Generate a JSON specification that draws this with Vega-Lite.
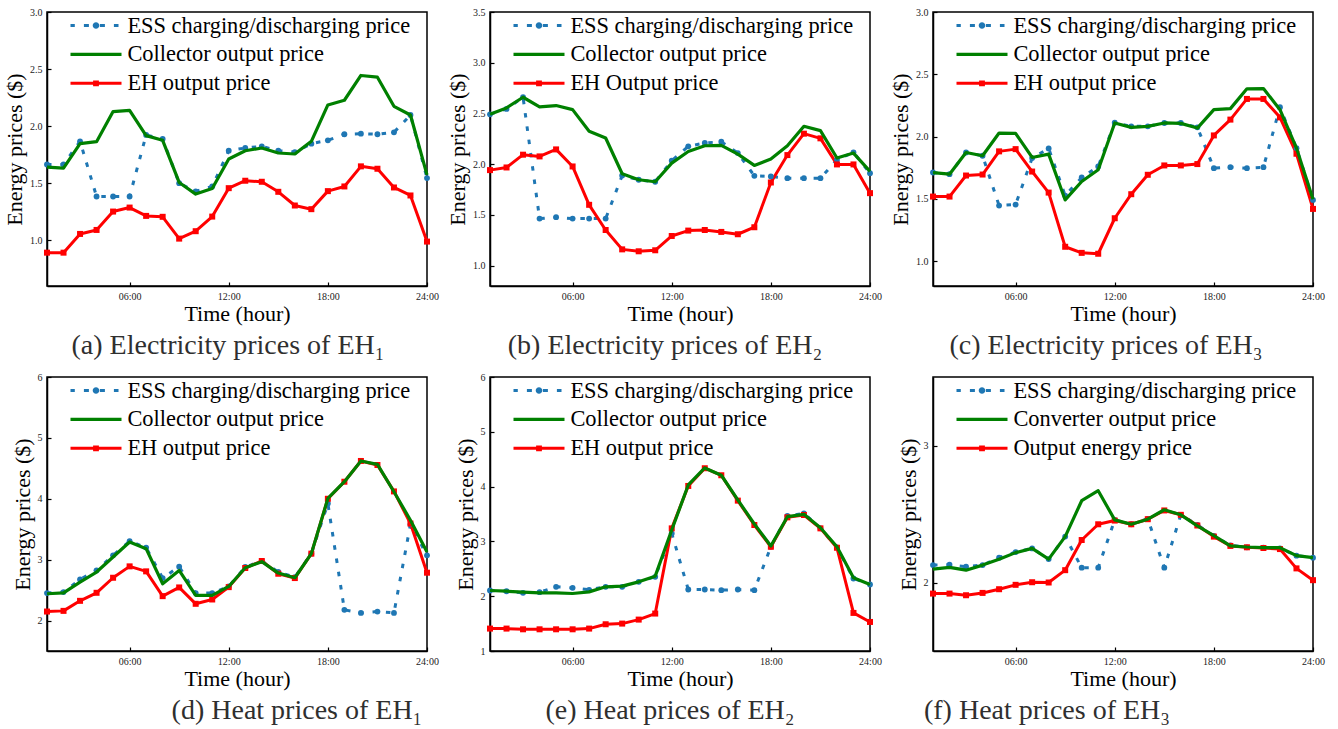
{
  "$schema": "https://vega.github.io/schema/vega-lite/v6.json",
  "padding": {"left": 2, "top": 6, "right": 5, "bottom": 5},
  "bounds": "flush",
  "columns": 3,
  "spacing": {"row": 91, "column": 63},
  "resolve": {"scale": {"color": "independent"}, "legend": {"color": "independent"}},
  "datasets": {
    "a": [
      {"h":1,"s":"ess","v":1.665},{"h":2,"s":"ess","v":1.665},{"h":3,"s":"ess","v":1.867},{"h":4,"s":"ess","v":1.384},{"h":5,"s":"ess","v":1.384},{"h":6,"s":"ess","v":1.384},{"h":7,"s":"ess","v":1.923},{"h":8,"s":"ess","v":1.888},{"h":9,"s":"ess","v":1.501},{"h":10,"s":"ess","v":1.428},{"h":11,"s":"ess","v":1.472},{"h":12,"s":"ess","v":1.785},{"h":13,"s":"ess","v":1.809},{"h":14,"s":"ess","v":1.823},{"h":15,"s":"ess","v":1.785},{"h":16,"s":"ess","v":1.773},{"h":17,"s":"ess","v":1.847},{"h":18,"s":"ess","v":1.876},{"h":19,"s":"ess","v":1.929},{"h":20,"s":"ess","v":1.934},{"h":21,"s":"ess","v":1.929},{"h":22,"s":"ess","v":1.946},{"h":23,"s":"ess","v":2.098},{"h":24,"s":"ess","v":1.545},
      {"h":1,"s":"col","v":1.642},{"h":2,"s":"col","v":1.633},{"h":3,"s":"col","v":1.847},{"h":4,"s":"col","v":1.864},{"h":5,"s":"col","v":2.128},{"h":6,"s":"col","v":2.139},{"h":7,"s":"col","v":1.917},{"h":8,"s":"col","v":1.876},{"h":9,"s":"col","v":1.507},{"h":10,"s":"col","v":1.405},{"h":11,"s":"col","v":1.454},{"h":12,"s":"col","v":1.712},{"h":13,"s":"col","v":1.785},{"h":14,"s":"col","v":1.809},{"h":15,"s":"col","v":1.765},{"h":16,"s":"col","v":1.756},{"h":17,"s":"col","v":1.867},{"h":18,"s":"col","v":2.186},{"h":19,"s":"col","v":2.227},{"h":20,"s":"col","v":2.444},{"h":21,"s":"col","v":2.429},{"h":22,"s":"col","v":2.174},{"h":23,"s":"col","v":2.098},{"h":24,"s":"col","v":1.574},
      {"h":1,"s":"eh","v":0.892},{"h":2,"s":"eh","v":0.892},{"h":3,"s":"eh","v":1.056},{"h":4,"s":"eh","v":1.091},{"h":5,"s":"eh","v":1.252},{"h":6,"s":"eh","v":1.287},{"h":7,"s":"eh","v":1.214},{"h":8,"s":"eh","v":1.206},{"h":9,"s":"eh","v":1.015},{"h":10,"s":"eh","v":1.080},{"h":11,"s":"eh","v":1.208},{"h":12,"s":"eh","v":1.457},{"h":13,"s":"eh","v":1.522},{"h":14,"s":"eh","v":1.513},{"h":15,"s":"eh","v":1.425},{"h":16,"s":"eh","v":1.305},{"h":17,"s":"eh","v":1.273},{"h":18,"s":"eh","v":1.431},{"h":19,"s":"eh","v":1.472},{"h":20,"s":"eh","v":1.648},{"h":21,"s":"eh","v":1.627},{"h":22,"s":"eh","v":1.463},{"h":23,"s":"eh","v":1.393},{"h":24,"s":"eh","v":0.989}
    ],
    "b": [
      {"h":1,"s":"ess","v":2.492},{"h":2,"s":"ess","v":2.545},{"h":3,"s":"ess","v":2.660},{"h":4,"s":"ess","v":1.464},{"h":5,"s":"ess","v":1.478},{"h":6,"s":"ess","v":1.464},{"h":7,"s":"ess","v":1.464},{"h":8,"s":"ess","v":1.464},{"h":9,"s":"ess","v":1.889},{"h":10,"s":"ess","v":1.847},{"h":11,"s":"ess","v":1.827},{"h":12,"s":"ess","v":2.034},{"h":13,"s":"ess","v":2.176},{"h":14,"s":"ess","v":2.209},{"h":15,"s":"ess","v":2.222},{"h":16,"s":"ess","v":2.110},{"h":17,"s":"ess","v":1.886},{"h":18,"s":"ess","v":1.879},{"h":19,"s":"ess","v":1.863},{"h":20,"s":"ess","v":1.863},{"h":21,"s":"ess","v":1.863},{"h":22,"s":"ess","v":2.044},{"h":23,"s":"ess","v":2.117},{"h":24,"s":"ess","v":1.912},
      {"h":1,"s":"col","v":2.492},{"h":2,"s":"col","v":2.555},{"h":3,"s":"col","v":2.660},{"h":4,"s":"col","v":2.565},{"h":5,"s":"col","v":2.578},{"h":6,"s":"col","v":2.538},{"h":7,"s":"col","v":2.324},{"h":8,"s":"col","v":2.258},{"h":9,"s":"col","v":1.906},{"h":10,"s":"col","v":1.847},{"h":11,"s":"col","v":1.827},{"h":12,"s":"col","v":2.011},{"h":13,"s":"col","v":2.126},{"h":14,"s":"col","v":2.182},{"h":15,"s":"col","v":2.186},{"h":16,"s":"col","v":2.100},{"h":17,"s":"col","v":1.988},{"h":18,"s":"col","v":2.051},{"h":19,"s":"col","v":2.182},{"h":20,"s":"col","v":2.374},{"h":21,"s":"col","v":2.331},{"h":22,"s":"col","v":2.061},{"h":23,"s":"col","v":2.110},{"h":24,"s":"col","v":1.929},
      {"h":1,"s":"eh","v":1.942},{"h":2,"s":"eh","v":1.968},{"h":3,"s":"eh","v":2.094},{"h":4,"s":"eh","v":2.077},{"h":5,"s":"eh","v":2.146},{"h":6,"s":"eh","v":1.978},{"h":7,"s":"eh","v":1.600},{"h":8,"s":"eh","v":1.352},{"h":9,"s":"eh","v":1.161},{"h":10,"s":"eh","v":1.142},{"h":11,"s":"eh","v":1.152},{"h":12,"s":"eh","v":1.293},{"h":13,"s":"eh","v":1.346},{"h":14,"s":"eh","v":1.352},{"h":15,"s":"eh","v":1.333},{"h":16,"s":"eh","v":1.310},{"h":17,"s":"eh","v":1.379},{"h":18,"s":"eh","v":1.820},{"h":19,"s":"eh","v":2.090},{"h":20,"s":"eh","v":2.301},{"h":21,"s":"eh","v":2.255},{"h":22,"s":"eh","v":1.998},{"h":23,"s":"eh","v":1.998},{"h":24,"s":"eh","v":1.715}
    ],
    "c": [
      {"h":1,"s":"ess","v":1.711},{"h":2,"s":"ess","v":1.698},{"h":3,"s":"ess","v":1.872},{"h":4,"s":"ess","v":1.846},{"h":5,"s":"ess","v":1.446},{"h":6,"s":"ess","v":1.454},{"h":7,"s":"ess","v":1.827},{"h":8,"s":"ess","v":1.905},{"h":9,"s":"ess","v":1.526},{"h":10,"s":"ess","v":1.671},{"h":11,"s":"ess","v":1.760},{"h":12,"s":"ess","v":2.111},{"h":13,"s":"ess","v":2.082},{"h":14,"s":"ess","v":2.082},{"h":15,"s":"ess","v":2.109},{"h":16,"s":"ess","v":2.109},{"h":17,"s":"ess","v":2.074},{"h":18,"s":"ess","v":1.746},{"h":19,"s":"ess","v":1.754},{"h":20,"s":"ess","v":1.746},{"h":21,"s":"ess","v":1.754},{"h":22,"s":"ess","v":2.235},{"h":23,"s":"ess","v":1.907},{"h":24,"s":"ess","v":1.491},
      {"h":1,"s":"col","v":1.711},{"h":2,"s":"col","v":1.698},{"h":3,"s":"col","v":1.872},{"h":4,"s":"col","v":1.846},{"h":5,"s":"col","v":2.028},{"h":6,"s":"col","v":2.026},{"h":7,"s":"col","v":1.832},{"h":8,"s":"col","v":1.859},{"h":9,"s":"col","v":1.491},{"h":10,"s":"col","v":1.639},{"h":11,"s":"col","v":1.733},{"h":12,"s":"col","v":2.109},{"h":13,"s":"col","v":2.074},{"h":14,"s":"col","v":2.082},{"h":15,"s":"col","v":2.109},{"h":16,"s":"col","v":2.106},{"h":17,"s":"col","v":2.068},{"h":18,"s":"col","v":2.216},{"h":19,"s":"col","v":2.224},{"h":20,"s":"col","v":2.383},{"h":21,"s":"col","v":2.385},{"h":22,"s":"col","v":2.216},{"h":23,"s":"col","v":1.907},{"h":24,"s":"col","v":1.497},
      {"h":1,"s":"eh","v":1.518},{"h":2,"s":"eh","v":1.518},{"h":3,"s":"eh","v":1.687},{"h":4,"s":"eh","v":1.695},{"h":5,"s":"eh","v":1.881},{"h":6,"s":"eh","v":1.899},{"h":7,"s":"eh","v":1.719},{"h":8,"s":"eh","v":1.550},{"h":9,"s":"eh","v":1.115},{"h":10,"s":"eh","v":1.066},{"h":11,"s":"eh","v":1.059},{"h":12,"s":"eh","v":1.344},{"h":13,"s":"eh","v":1.537},{"h":14,"s":"eh","v":1.693},{"h":15,"s":"eh","v":1.768},{"h":16,"s":"eh","v":1.768},{"h":17,"s":"eh","v":1.779},{"h":18,"s":"eh","v":2.009},{"h":19,"s":"eh","v":2.136},{"h":20,"s":"eh","v":2.302},{"h":21,"s":"eh","v":2.302},{"h":22,"s":"eh","v":2.154},{"h":23,"s":"eh","v":1.862},{"h":24,"s":"eh","v":1.419}
    ],
    "d": [
      {"h":1,"s":"ess","v":2.451},{"h":2,"s":"ess","v":2.467},{"h":3,"s":"ess","v":2.676},{"h":4,"s":"ess","v":2.824},{"h":5,"s":"ess","v":3.071},{"h":6,"s":"ess","v":3.302},{"h":7,"s":"ess","v":3.198},{"h":8,"s":"ess","v":2.698},{"h":9,"s":"ess","v":2.885},{"h":10,"s":"ess","v":2.451},{"h":11,"s":"ess","v":2.451},{"h":12,"s":"ess","v":2.560},{"h":13,"s":"ess","v":2.879},{"h":14,"s":"ess","v":2.978},{"h":15,"s":"ess","v":2.797},{"h":16,"s":"ess","v":2.714},{"h":17,"s":"ess","v":3.099},{"h":18,"s":"ess","v":3.923},{"h":19,"s":"ess","v":2.176},{"h":20,"s":"ess","v":2.126},{"h":21,"s":"ess","v":2.148},{"h":22,"s":"ess","v":2.126},{"h":23,"s":"ess","v":3.582},{"h":24,"s":"ess","v":3.071},
      {"h":1,"s":"col","v":2.440},{"h":2,"s":"col","v":2.456},{"h":3,"s":"col","v":2.632},{"h":4,"s":"col","v":2.797},{"h":5,"s":"col","v":3.044},{"h":6,"s":"col","v":3.291},{"h":7,"s":"col","v":3.181},{"h":8,"s":"col","v":2.604},{"h":9,"s":"col","v":2.824},{"h":10,"s":"col","v":2.412},{"h":11,"s":"col","v":2.412},{"h":12,"s":"col","v":2.560},{"h":13,"s":"col","v":2.868},{"h":14,"s":"col","v":2.967},{"h":15,"s":"col","v":2.780},{"h":16,"s":"col","v":2.703},{"h":17,"s":"col","v":3.099},{"h":18,"s":"col","v":4.005},{"h":19,"s":"col","v":4.280},{"h":20,"s":"col","v":4.621},{"h":21,"s":"col","v":4.566},{"h":22,"s":"col","v":4.115},{"h":23,"s":"col","v":3.648},{"h":24,"s":"col","v":3.126},
      {"h":1,"s":"eh","v":2.148},{"h":2,"s":"eh","v":2.159},{"h":3,"s":"eh","v":2.324},{"h":4,"s":"eh","v":2.456},{"h":5,"s":"eh","v":2.703},{"h":6,"s":"eh","v":2.890},{"h":7,"s":"eh","v":2.808},{"h":8,"s":"eh","v":2.401},{"h":9,"s":"eh","v":2.544},{"h":10,"s":"eh","v":2.275},{"h":11,"s":"eh","v":2.346},{"h":12,"s":"eh","v":2.549},{"h":13,"s":"eh","v":2.863},{"h":14,"s":"eh","v":2.978},{"h":15,"s":"eh","v":2.769},{"h":16,"s":"eh","v":2.698},{"h":17,"s":"eh","v":3.099},{"h":18,"s":"eh","v":4.000},{"h":19,"s":"eh","v":4.280},{"h":20,"s":"eh","v":4.621},{"h":21,"s":"eh","v":4.555},{"h":22,"s":"eh","v":4.121},{"h":23,"s":"eh","v":3.593},{"h":24,"s":"eh","v":2.786}
    ],
    "e": [
      {"h":1,"s":"ess","v":2.104},{"h":2,"s":"ess","v":2.091},{"h":3,"s":"ess","v":2.061},{"h":4,"s":"ess","v":2.073},{"h":5,"s":"ess","v":2.171},{"h":6,"s":"ess","v":2.152},{"h":7,"s":"ess","v":2.116},{"h":8,"s":"ess","v":2.171},{"h":9,"s":"ess","v":2.171},{"h":10,"s":"ess","v":2.262},{"h":11,"s":"ess","v":2.354},{"h":12,"s":"ess","v":3.146},{"h":13,"s":"ess","v":2.122},{"h":14,"s":"ess","v":2.122},{"h":15,"s":"ess","v":2.110},{"h":16,"s":"ess","v":2.122},{"h":17,"s":"ess","v":2.110},{"h":18,"s":"ess","v":2.902},{"h":19,"s":"ess","v":3.463},{"h":20,"s":"ess","v":3.512},{"h":21,"s":"ess","v":3.238},{"h":22,"s":"ess","v":2.890},{"h":23,"s":"ess","v":2.323},{"h":24,"s":"ess","v":2.213},
      {"h":1,"s":"col","v":2.104},{"h":2,"s":"col","v":2.091},{"h":3,"s":"col","v":2.073},{"h":4,"s":"col","v":2.061},{"h":5,"s":"col","v":2.061},{"h":6,"s":"col","v":2.049},{"h":7,"s":"col","v":2.079},{"h":8,"s":"col","v":2.171},{"h":9,"s":"col","v":2.183},{"h":10,"s":"col","v":2.262},{"h":11,"s":"col","v":2.366},{"h":12,"s":"col","v":3.207},{"h":13,"s":"col","v":4.030},{"h":14,"s":"col","v":4.341},{"h":15,"s":"col","v":4.207},{"h":16,"s":"col","v":3.756},{"h":17,"s":"col","v":3.317},{"h":18,"s":"col","v":2.915},{"h":19,"s":"col","v":3.451},{"h":20,"s":"col","v":3.494},{"h":21,"s":"col","v":3.250},{"h":22,"s":"col","v":2.902},{"h":23,"s":"col","v":2.335},{"h":24,"s":"col","v":2.213},
      {"h":1,"s":"eh","v":1.409},{"h":2,"s":"eh","v":1.409},{"h":3,"s":"eh","v":1.396},{"h":4,"s":"eh","v":1.396},{"h":5,"s":"eh","v":1.396},{"h":6,"s":"eh","v":1.396},{"h":7,"s":"eh","v":1.409},{"h":8,"s":"eh","v":1.488},{"h":9,"s":"eh","v":1.500},{"h":10,"s":"eh","v":1.573},{"h":11,"s":"eh","v":1.683},{"h":12,"s":"eh","v":3.238},{"h":13,"s":"eh","v":4.012},{"h":14,"s":"eh","v":4.335},{"h":15,"s":"eh","v":4.207},{"h":16,"s":"eh","v":3.744},{"h":17,"s":"eh","v":3.299},{"h":18,"s":"eh","v":2.902},{"h":19,"s":"eh","v":3.439},{"h":20,"s":"eh","v":3.482},{"h":21,"s":"eh","v":3.238},{"h":22,"s":"eh","v":2.884},{"h":23,"s":"eh","v":1.695},{"h":24,"s":"eh","v":1.530}
    ],
    "f": [
      {"h":1,"s":"ess","v":2.127},{"h":2,"s":"ess","v":2.130},{"h":3,"s":"ess","v":2.115},{"h":4,"s":"ess","v":2.127},{"h":5,"s":"ess","v":2.181},{"h":6,"s":"ess","v":2.222},{"h":7,"s":"ess","v":2.249},{"h":8,"s":"ess","v":2.171},{"h":9,"s":"ess","v":2.335},{"h":10,"s":"ess","v":2.108},{"h":11,"s":"ess","v":2.108},{"h":12,"s":"ess","v":2.457},{"h":13,"s":"ess","v":2.425},{"h":14,"s":"ess","v":2.465},{"h":15,"s":"ess","v":2.108},{"h":16,"s":"ess","v":2.494},{"h":17,"s":"ess","v":2.421},{"h":18,"s":"ess","v":2.340},{"h":19,"s":"ess","v":2.271},{"h":20,"s":"ess","v":2.257},{"h":21,"s":"ess","v":2.254},{"h":22,"s":"ess","v":2.249},{"h":23,"s":"ess","v":2.196},{"h":24,"s":"ess","v":2.181},
      {"h":1,"s":"col","v":2.098},{"h":2,"s":"col","v":2.110},{"h":3,"s":"col","v":2.090},{"h":4,"s":"col","v":2.127},{"h":5,"s":"col","v":2.169},{"h":6,"s":"col","v":2.218},{"h":7,"s":"col","v":2.249},{"h":8,"s":"col","v":2.171},{"h":9,"s":"col","v":2.335},{"h":10,"s":"col","v":2.597},{"h":11,"s":"col","v":2.670},{"h":12,"s":"col","v":2.457},{"h":13,"s":"col","v":2.425},{"h":14,"s":"col","v":2.462},{"h":15,"s":"col","v":2.531},{"h":16,"s":"col","v":2.494},{"h":17,"s":"col","v":2.413},{"h":18,"s":"col","v":2.342},{"h":19,"s":"col","v":2.267},{"h":20,"s":"col","v":2.259},{"h":21,"s":"col","v":2.254},{"h":22,"s":"col","v":2.254},{"h":23,"s":"col","v":2.196},{"h":24,"s":"col","v":2.181},
      {"h":1,"s":"eh","v":1.919},{"h":2,"s":"eh","v":1.919},{"h":3,"s":"eh","v":1.907},{"h":4,"s":"eh","v":1.924},{"h":5,"s":"eh","v":1.951},{"h":6,"s":"eh","v":1.983},{"h":7,"s":"eh","v":2.002},{"h":8,"s":"eh","v":2.000},{"h":9,"s":"eh","v":2.090},{"h":10,"s":"eh","v":2.310},{"h":11,"s":"eh","v":2.425},{"h":12,"s":"eh","v":2.452},{"h":13,"s":"eh","v":2.425},{"h":14,"s":"eh","v":2.462},{"h":15,"s":"eh","v":2.526},{"h":16,"s":"eh","v":2.494},{"h":17,"s":"eh","v":2.416},{"h":18,"s":"eh","v":2.335},{"h":19,"s":"eh","v":2.267},{"h":20,"s":"eh","v":2.257},{"h":21,"s":"eh","v":2.252},{"h":22,"s":"eh","v":2.244},{"h":23,"s":"eh","v":2.103},{"h":24,"s":"eh","v":2.017}
    ]
  },
  "concat": [
    {
      "width": 380, "height": 274,
      "data": {"name": "a"},
      "title": {"text": "(a) Electricity prices of EH₁", "dx": -9},
      "encoding": {
        "x": {"field": "h", "type": "quantitative", "title": "Time (hour)", "scale": {"domain": [1, 24], "nice": false, "zero": false}, "axis": {"values": [6, 12, 18, 24], "labelExpr": "(datum.value < 10 ? '0' : '') + datum.value + ':00'"}},
        "y": {"field": "v", "type": "quantitative", "title": "Energy prices ($)", "scale": {"domain": [0.6, 3.0], "nice": false, "zero": false}, "axis": {"values": [1, 1.5, 2, 2.5, 3], "format": ".1f"}},
        "color": {"field": "s", "type": "nominal", "scale": {"domain": ["ess", "col", "eh"], "range": ["#1f77b4", "#008000", "#ff0000"]},
          "legend": {"orient": "none", "legendX": 37.8, "legendY": 2.3, "title": null, "padding": 0, "labelFont": "Liberation Serif", "labelFontSize": 22.4, "labelColor": "black", "labelOffset": 20.2, "rowPadding": 5.9, "labelLimit": 0, "symbolSize": 400, "symbolStrokeWidth": 0,
            "symbolFillColor": {"expr": "datum.value == 'ess' ? '#1f77b4' : datum.value == 'col' ? '#008000' : '#ff0000'"},
            "symbolType": {"expr": "datum.value == 'ess' ? 'M-2.55,-0.15L-2.12,-0.15L-2.12,0.15L-2.55,0.15Z M-1.21,-0.15L-0.71,-0.15L-0.71,0.15L-1.21,0.15Z M0.33,0A0.33,0.33 0 1 1 -0.33,0A0.33,0.33 0 1 1 0.33,0Z M0.39,-0.15L0.89,-0.15L0.89,0.15L0.39,0.15Z M1.79,-0.15L2.25,-0.15L2.25,0.15L1.79,0.15Z' : datum.value == 'col' ? 'M-2.55,-0.16L2.55,-0.16L2.55,0.16L-2.55,0.16Z' : 'M-2.55,-0.15L2.55,-0.15L2.55,0.15L-2.55,0.15Z M-0.29,-0.29L0.29,-0.29L0.29,0.29L-0.29,0.29Z'"},
            "labelExpr": "datum.value == 'ess' ? 'ESS charging/discharging price' : datum.value == 'col' ? 'Collector output price' : 'EH output price'"}}
      },
      "layer": [
        {"transform": [{"filter": "datum.s == 'ess'"}], "mark": {"type": "line", "strokeWidth": 3, "strokeDash": [4.5, 8.9]}},
        {"transform": [{"filter": "datum.s == 'eh'"}], "mark": {"type": "line", "strokeWidth": 3}},
        {"transform": [{"filter": "datum.s != 'col'"}], "mark": {"type": "point", "filled": true, "opacity": 1},
          "encoding": {"shape": {"condition": {"test": "datum.s == 'eh'", "value": "square"}, "value": "circle"}, "size": {"condition": {"test": "datum.s == 'eh'", "value": 36}, "value": 34}}},
        {"transform": [{"filter": "datum.s == 'col'"}], "mark": {"type": "line", "strokeWidth": 3.2}}
      ]
    },
    {
      "width": 380, "height": 274,
      "data": {"name": "b"},
      "title": {"text": "(b) Electricity prices of EH₂", "dx": -15},
      "encoding": {
        "x": {"field": "h", "type": "quantitative", "title": "Time (hour)", "scale": {"domain": [1, 24], "nice": false, "zero": false}, "axis": {"values": [6, 12, 18, 24], "labelExpr": "(datum.value < 10 ? '0' : '') + datum.value + ':00'"}},
        "y": {"field": "v", "type": "quantitative", "title": "Energy prices ($)", "scale": {"domain": [0.8, 3.5], "nice": false, "zero": false}, "axis": {"values": [1, 1.5, 2, 2.5, 3, 3.5], "format": ".1f"}},
        "color": {"field": "s", "type": "nominal", "scale": {"domain": ["ess", "col", "eh"], "range": ["#1f77b4", "#008000", "#ff0000"]},
          "legend": {"orient": "none", "legendX": 37.8, "legendY": 2.3, "title": null, "padding": 0, "labelFont": "Liberation Serif", "labelFontSize": 22.4, "labelColor": "black", "labelOffset": 20.2, "rowPadding": 5.9, "labelLimit": 0, "symbolSize": 400, "symbolStrokeWidth": 0,
            "symbolFillColor": {"expr": "datum.value == 'ess' ? '#1f77b4' : datum.value == 'col' ? '#008000' : '#ff0000'"},
            "symbolType": {"expr": "datum.value == 'ess' ? 'M-2.55,-0.15L-2.12,-0.15L-2.12,0.15L-2.55,0.15Z M-1.21,-0.15L-0.71,-0.15L-0.71,0.15L-1.21,0.15Z M0.33,0A0.33,0.33 0 1 1 -0.33,0A0.33,0.33 0 1 1 0.33,0Z M0.39,-0.15L0.89,-0.15L0.89,0.15L0.39,0.15Z M1.79,-0.15L2.25,-0.15L2.25,0.15L1.79,0.15Z' : datum.value == 'col' ? 'M-2.55,-0.16L2.55,-0.16L2.55,0.16L-2.55,0.16Z' : 'M-2.55,-0.15L2.55,-0.15L2.55,0.15L-2.55,0.15Z M-0.29,-0.29L0.29,-0.29L0.29,0.29L-0.29,0.29Z'"},
            "labelExpr": "datum.value == 'ess' ? 'ESS charging/discharging price' : datum.value == 'col' ? 'Collector output price' : 'EH Output price'"}}
      },
      "layer": [
        {"transform": [{"filter": "datum.s == 'ess'"}], "mark": {"type": "line", "strokeWidth": 3, "strokeDash": [4.5, 8.9]}},
        {"transform": [{"filter": "datum.s == 'eh'"}], "mark": {"type": "line", "strokeWidth": 3}},
        {"transform": [{"filter": "datum.s != 'col'"}], "mark": {"type": "point", "filled": true, "opacity": 1},
          "encoding": {"shape": {"condition": {"test": "datum.s == 'eh'", "value": "square"}, "value": "circle"}, "size": {"condition": {"test": "datum.s == 'eh'", "value": 36}, "value": 34}}},
        {"transform": [{"filter": "datum.s == 'col'"}], "mark": {"type": "line", "strokeWidth": 3.2}}
      ]
    },
    {
      "width": 380, "height": 274,
      "data": {"name": "c"},
      "title": {"text": "(c) Electricity prices of EH₃", "dx": -17},
      "encoding": {
        "x": {"field": "h", "type": "quantitative", "title": "Time (hour)", "scale": {"domain": [1, 24], "nice": false, "zero": false}, "axis": {"values": [6, 12, 18, 24], "labelExpr": "(datum.value < 10 ? '0' : '') + datum.value + ':00'"}},
        "y": {"field": "v", "type": "quantitative", "title": "Energy prices ($)", "scale": {"domain": [0.8, 3.0], "nice": false, "zero": false}, "axis": {"values": [1, 1.5, 2, 2.5, 3], "format": ".1f"}},
        "color": {"field": "s", "type": "nominal", "scale": {"domain": ["ess", "col", "eh"], "range": ["#1f77b4", "#008000", "#ff0000"]},
          "legend": {"orient": "none", "legendX": 37.8, "legendY": 2.3, "title": null, "padding": 0, "labelFont": "Liberation Serif", "labelFontSize": 22.4, "labelColor": "black", "labelOffset": 20.2, "rowPadding": 5.9, "labelLimit": 0, "symbolSize": 400, "symbolStrokeWidth": 0,
            "symbolFillColor": {"expr": "datum.value == 'ess' ? '#1f77b4' : datum.value == 'col' ? '#008000' : '#ff0000'"},
            "symbolType": {"expr": "datum.value == 'ess' ? 'M-2.55,-0.15L-2.12,-0.15L-2.12,0.15L-2.55,0.15Z M-1.21,-0.15L-0.71,-0.15L-0.71,0.15L-1.21,0.15Z M0.33,0A0.33,0.33 0 1 1 -0.33,0A0.33,0.33 0 1 1 0.33,0Z M0.39,-0.15L0.89,-0.15L0.89,0.15L0.39,0.15Z M1.79,-0.15L2.25,-0.15L2.25,0.15L1.79,0.15Z' : datum.value == 'col' ? 'M-2.55,-0.16L2.55,-0.16L2.55,0.16L-2.55,0.16Z' : 'M-2.55,-0.15L2.55,-0.15L2.55,0.15L-2.55,0.15Z M-0.29,-0.29L0.29,-0.29L0.29,0.29L-0.29,0.29Z'"},
            "labelExpr": "datum.value == 'ess' ? 'ESS charging/discharging price' : datum.value == 'col' ? 'Collector output price' : 'EH output price'"}}
      },
      "layer": [
        {"transform": [{"filter": "datum.s == 'ess'"}], "mark": {"type": "line", "strokeWidth": 3, "strokeDash": [4.5, 8.9]}},
        {"transform": [{"filter": "datum.s == 'eh'"}], "mark": {"type": "line", "strokeWidth": 3}},
        {"transform": [{"filter": "datum.s != 'col'"}], "mark": {"type": "point", "filled": true, "opacity": 1},
          "encoding": {"shape": {"condition": {"test": "datum.s == 'eh'", "value": "square"}, "value": "circle"}, "size": {"condition": {"test": "datum.s == 'eh'", "value": 36}, "value": 34}}},
        {"transform": [{"filter": "datum.s == 'col'"}], "mark": {"type": "line", "strokeWidth": 3.2}}
      ]
    },
    {
      "width": 380, "height": 274,
      "data": {"name": "d"},
      "title": {"text": "(d) Heat prices of EH₁", "dx": 60},
      "encoding": {
        "x": {"field": "h", "type": "quantitative", "title": "Time (hour)", "scale": {"domain": [1, 24], "nice": false, "zero": false}, "axis": {"values": [6, 12, 18, 24], "labelExpr": "(datum.value < 10 ? '0' : '') + datum.value + ':00'"}},
        "y": {"field": "v", "type": "quantitative", "title": "Energy prices ($)", "scale": {"domain": [1.5, 6], "nice": false, "zero": false}, "axis": {"values": [2, 3, 4, 5, 6], "format": "d"}},
        "color": {"field": "s", "type": "nominal", "scale": {"domain": ["ess", "col", "eh"], "range": ["#1f77b4", "#008000", "#ff0000"]},
          "legend": {"orient": "none", "legendX": 37.8, "legendY": 2.3, "title": null, "padding": 0, "labelFont": "Liberation Serif", "labelFontSize": 22.4, "labelColor": "black", "labelOffset": 20.2, "rowPadding": 5.9, "labelLimit": 0, "symbolSize": 400, "symbolStrokeWidth": 0,
            "symbolFillColor": {"expr": "datum.value == 'ess' ? '#1f77b4' : datum.value == 'col' ? '#008000' : '#ff0000'"},
            "symbolType": {"expr": "datum.value == 'ess' ? 'M-2.55,-0.15L-2.12,-0.15L-2.12,0.15L-2.55,0.15Z M-1.21,-0.15L-0.71,-0.15L-0.71,0.15L-1.21,0.15Z M0.33,0A0.33,0.33 0 1 1 -0.33,0A0.33,0.33 0 1 1 0.33,0Z M0.39,-0.15L0.89,-0.15L0.89,0.15L0.39,0.15Z M1.79,-0.15L2.25,-0.15L2.25,0.15L1.79,0.15Z' : datum.value == 'col' ? 'M-2.55,-0.16L2.55,-0.16L2.55,0.16L-2.55,0.16Z' : 'M-2.55,-0.15L2.55,-0.15L2.55,0.15L-2.55,0.15Z M-0.29,-0.29L0.29,-0.29L0.29,0.29L-0.29,0.29Z'"},
            "labelExpr": "datum.value == 'ess' ? 'ESS charging/discharging price' : datum.value == 'col' ? 'Collector output price' : 'EH output price'"}}
      },
      "layer": [
        {"transform": [{"filter": "datum.s == 'ess'"}], "mark": {"type": "line", "strokeWidth": 3, "strokeDash": [4.5, 8.9]}},
        {"transform": [{"filter": "datum.s == 'eh'"}], "mark": {"type": "line", "strokeWidth": 3}},
        {"transform": [{"filter": "datum.s != 'col'"}], "mark": {"type": "point", "filled": true, "opacity": 1},
          "encoding": {"shape": {"condition": {"test": "datum.s == 'eh'", "value": "square"}, "value": "circle"}, "size": {"condition": {"test": "datum.s == 'eh'", "value": 36}, "value": 34}}},
        {"transform": [{"filter": "datum.s == 'col'"}], "mark": {"type": "line", "strokeWidth": 3.2}}
      ]
    },
    {
      "width": 380, "height": 274,
      "data": {"name": "e"},
      "title": {"text": "(e) Heat prices of EH₂", "dx": -10},
      "encoding": {
        "x": {"field": "h", "type": "quantitative", "title": "Time (hour)", "scale": {"domain": [1, 24], "nice": false, "zero": false}, "axis": {"values": [6, 12, 18, 24], "labelExpr": "(datum.value < 10 ? '0' : '') + datum.value + ':00'"}},
        "y": {"field": "v", "type": "quantitative", "title": "Energy prices ($)", "scale": {"domain": [1, 6], "nice": false, "zero": false}, "axis": {"values": [1, 2, 3, 4, 5, 6], "format": "d"}},
        "color": {"field": "s", "type": "nominal", "scale": {"domain": ["ess", "col", "eh"], "range": ["#1f77b4", "#008000", "#ff0000"]},
          "legend": {"orient": "none", "legendX": 37.8, "legendY": 2.3, "title": null, "padding": 0, "labelFont": "Liberation Serif", "labelFontSize": 22.4, "labelColor": "black", "labelOffset": 20.2, "rowPadding": 5.9, "labelLimit": 0, "symbolSize": 400, "symbolStrokeWidth": 0,
            "symbolFillColor": {"expr": "datum.value == 'ess' ? '#1f77b4' : datum.value == 'col' ? '#008000' : '#ff0000'"},
            "symbolType": {"expr": "datum.value == 'ess' ? 'M-2.55,-0.15L-2.12,-0.15L-2.12,0.15L-2.55,0.15Z M-1.21,-0.15L-0.71,-0.15L-0.71,0.15L-1.21,0.15Z M0.33,0A0.33,0.33 0 1 1 -0.33,0A0.33,0.33 0 1 1 0.33,0Z M0.39,-0.15L0.89,-0.15L0.89,0.15L0.39,0.15Z M1.79,-0.15L2.25,-0.15L2.25,0.15L1.79,0.15Z' : datum.value == 'col' ? 'M-2.55,-0.16L2.55,-0.16L2.55,0.16L-2.55,0.16Z' : 'M-2.55,-0.15L2.55,-0.15L2.55,0.15L-2.55,0.15Z M-0.29,-0.29L0.29,-0.29L0.29,0.29L-0.29,0.29Z'"},
            "labelExpr": "datum.value == 'ess' ? 'ESS charging/discharging price' : datum.value == 'col' ? 'Collector output price' : 'EH output price'"}}
      },
      "layer": [
        {"transform": [{"filter": "datum.s == 'ess'"}], "mark": {"type": "line", "strokeWidth": 3, "strokeDash": [4.5, 8.9]}},
        {"transform": [{"filter": "datum.s == 'eh'"}], "mark": {"type": "line", "strokeWidth": 3}},
        {"transform": [{"filter": "datum.s != 'col'"}], "mark": {"type": "point", "filled": true, "opacity": 1},
          "encoding": {"shape": {"condition": {"test": "datum.s == 'eh'", "value": "square"}, "value": "circle"}, "size": {"condition": {"test": "datum.s == 'eh'", "value": 36}, "value": 34}}},
        {"transform": [{"filter": "datum.s == 'col'"}], "mark": {"type": "line", "strokeWidth": 3.2}}
      ]
    },
    {
      "width": 380, "height": 274,
      "data": {"name": "f"},
      "title": {"text": "(f) Heat prices of EH₃", "dx": -76},
      "encoding": {
        "x": {"field": "h", "type": "quantitative", "title": "Time (hour)", "scale": {"domain": [1, 24], "nice": false, "zero": false}, "axis": {"values": [6, 12, 18, 24], "labelExpr": "(datum.value < 10 ? '0' : '') + datum.value + ':00'"}},
        "y": {"field": "v", "type": "quantitative", "title": "Energy prices ($)", "scale": {"domain": [1.5, 3.5], "nice": false, "zero": false}, "axis": {"values": [2, 3], "format": "d"}},
        "color": {"field": "s", "type": "nominal", "scale": {"domain": ["ess", "col", "eh"], "range": ["#1f77b4", "#008000", "#ff0000"]},
          "legend": {"orient": "none", "legendX": 37.8, "legendY": 2.3, "title": null, "padding": 0, "labelFont": "Liberation Serif", "labelFontSize": 22.4, "labelColor": "black", "labelOffset": 20.2, "rowPadding": 5.9, "labelLimit": 0, "symbolSize": 400, "symbolStrokeWidth": 0,
            "symbolFillColor": {"expr": "datum.value == 'ess' ? '#1f77b4' : datum.value == 'col' ? '#008000' : '#ff0000'"},
            "symbolType": {"expr": "datum.value == 'ess' ? 'M-2.55,-0.15L-2.12,-0.15L-2.12,0.15L-2.55,0.15Z M-1.21,-0.15L-0.71,-0.15L-0.71,0.15L-1.21,0.15Z M0.33,0A0.33,0.33 0 1 1 -0.33,0A0.33,0.33 0 1 1 0.33,0Z M0.39,-0.15L0.89,-0.15L0.89,0.15L0.39,0.15Z M1.79,-0.15L2.25,-0.15L2.25,0.15L1.79,0.15Z' : datum.value == 'col' ? 'M-2.55,-0.16L2.55,-0.16L2.55,0.16L-2.55,0.16Z' : 'M-2.55,-0.15L2.55,-0.15L2.55,0.15L-2.55,0.15Z M-0.29,-0.29L0.29,-0.29L0.29,0.29L-0.29,0.29Z'"},
            "labelExpr": "datum.value == 'ess' ? 'ESS charging/discharging price' : datum.value == 'col' ? 'Converter output price' : 'Output energy price'"}}
      },
      "layer": [
        {"transform": [{"filter": "datum.s == 'ess'"}], "mark": {"type": "line", "strokeWidth": 3, "strokeDash": [4.5, 8.9]}},
        {"transform": [{"filter": "datum.s == 'eh'"}], "mark": {"type": "line", "strokeWidth": 3}},
        {"transform": [{"filter": "datum.s != 'col'"}], "mark": {"type": "point", "filled": true, "opacity": 1},
          "encoding": {"shape": {"condition": {"test": "datum.s == 'eh'", "value": "square"}, "value": "circle"}, "size": {"condition": {"test": "datum.s == 'eh'", "value": 36}, "value": 34}}},
        {"transform": [{"filter": "datum.s == 'col'"}], "mark": {"type": "line", "strokeWidth": 3.2}}
      ]
    }
  ],
  "config": {
    "font": "Liberation Serif",
    "view": {"stroke": "black", "strokeWidth": 1.5},
    "line": {"strokeCap": "butt", "strokeJoin": "round"},
    "axis": {"grid": false, "labelFlush": false, "domainColor": "black", "domainWidth": 1.5, "tickColor": "black", "tickSize": -4, "tickWidth": 1.2, "labelFont": "Liberation Serif", "labelFontSize": 10, "labelColor": "#222", "labelPadding": 9, "titleFont": "Liberation Serif", "titleFontSize": 22, "titleFontWeight": "normal", "titleColor": "black"},
    "axisX": {"titlePadding": 2},
    "axisY": {"titlePadding": 3},
    "title": {"orient": "bottom", "anchor": "middle", "font": "Liberation Serif", "fontSize": 28, "fontWeight": "normal", "color": "#2f2f2f", "offset": 8}
  }
}
